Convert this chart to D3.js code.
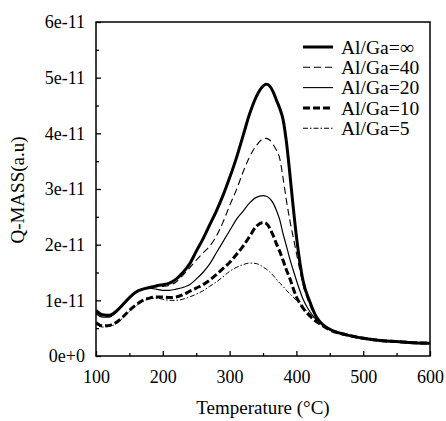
<!DOCTYPE html>
<html><head><meta charset="utf-8">
<script src="https://cdn.jsdelivr.net/npm/d3@7/dist/d3.min.js"></script>
<style>
html,body{margin:0;padding:0;background:#fff;}
svg{display:block;}
</style></head>
<body>
<svg id="chart" width="446" height="421"></svg>
<script>
// Temperature grid (°C)
const temps = [100,110,120,130,140,150,160,170,180,190,200,210,220,230,240,250,260,270,280,290,300,310,320,330,340,350,355,360,365,370,375,380,385,390,395,400,405,410,420,430,440,450,475,500,525,550,575,600];
// Q-MASS signal, in units of 1e-11
const alGaInf = [0.82,0.74,0.73,0.80,0.92,1.05,1.15,1.20,1.23,1.26,1.28,1.31,1.38,1.50,1.65,1.88,2.10,2.35,2.60,2.88,3.20,3.55,3.95,4.35,4.66,4.85,4.88,4.85,4.75,4.60,4.45,4.25,3.85,3.30,2.70,2.15,1.70,1.35,0.98,0.70,0.56,0.48,0.38,0.32,0.28,0.26,0.24,0.23];
const alGa40  = [0.78,0.72,0.72,0.80,0.92,1.05,1.15,1.20,1.22,1.24,1.25,1.27,1.33,1.45,1.58,1.72,1.85,1.97,2.15,2.40,2.70,2.98,3.30,3.58,3.78,3.90,3.91,3.88,3.80,3.70,3.55,3.20,2.80,2.45,2.15,1.85,1.55,1.28,0.92,0.68,0.55,0.48,0.38,0.32,0.28,0.26,0.24,0.23];
const alGa20  = [0.76,0.70,0.70,0.78,0.90,1.04,1.15,1.20,1.22,1.20,1.18,1.18,1.20,1.23,1.28,1.38,1.50,1.65,1.85,2.05,2.25,2.45,2.60,2.75,2.85,2.88,2.87,2.83,2.75,2.62,2.45,2.20,1.98,1.75,1.55,1.36,1.18,1.02,0.80,0.65,0.55,0.47,0.38,0.32,0.28,0.26,0.24,0.23];
const alGa10  = [0.60,0.54,0.55,0.60,0.70,0.82,0.92,1.00,1.04,1.06,1.06,1.05,1.06,1.10,1.16,1.22,1.28,1.36,1.46,1.57,1.68,1.82,1.97,2.15,2.33,2.40,2.38,2.30,2.17,2.02,1.88,1.72,1.55,1.40,1.22,1.06,0.95,0.86,0.72,0.62,0.54,0.47,0.38,0.32,0.28,0.26,0.24,0.23];
const alGa5   = [0.58,0.52,0.53,0.58,0.68,0.80,0.90,0.98,1.03,1.04,1.02,1.00,1.00,1.02,1.06,1.11,1.17,1.25,1.33,1.42,1.52,1.59,1.64,1.67,1.66,1.60,1.56,1.51,1.45,1.38,1.31,1.25,1.18,1.12,1.06,1.00,0.94,0.88,0.76,0.65,0.55,0.47,0.38,0.32,0.28,0.26,0.24,0.23];

const seriesNames = ["Al/Ga=\u221E","Al/Ga=40","Al/Ga=20","Al/Ga=10","Al/Ga=5"];
const seriesValues = [alGaInf, alGa40, alGa20, alGa10, alGa5];
const seriesWidth = [3, 1.1, 1.2, 3, 1];
const seriesDash = [null, "7,4", null, "7,3", "5,2,1.5,2"];

const xTicks = [100,200,300,400,500,600];
const xMinorTicks = [150,250,350,450,550];
const yTicks = [0,1,2,3,4,5,6];
const yTickLabels = ["0e+0","1e-11","2e-11","3e-11","4e-11","5e-11","6e-11"];
const yMinorTicks = [0.5,1.5,2.5,3.5,4.5,5.5];

const FONT = '"Liberation Serif","DejaVu Serif",Tinos,"Times New Roman",Times,serif';
const svg = d3.select("#chart").attr("font-family", FONT);
const L = 96, R = 430, T = 22, B = 356;
const x = d3.scaleLinear().domain([100,600]).range([L,R]);
const y = d3.scaleLinear().domain([0,6]).range([B,T]);

// frame
svg.append("rect").attr("x",L).attr("y",T).attr("width",R-L).attr("height",B-T)
  .attr("fill","none").attr("stroke","#000").attr("stroke-width",1.5);

// axes (inward ticks)
const xAxis = d3.axisBottom(x).tickValues(xTicks).tickSize(-5).tickPadding(14).tickFormat(d3.format("d"));
const gx = svg.append("g").attr("transform",`translate(0,${B})`).call(xAxis);
const xMinor = d3.axisBottom(x).tickValues(xMinorTicks).tickSize(-3).tickFormat("");
const gxm = svg.append("g").attr("transform",`translate(0,${B})`).call(xMinor);
const yAxis = d3.axisLeft(y).tickValues(yTicks).tickSize(-5).tickPadding(11).tickFormat((d,i)=>yTickLabels[i]);
const gy = svg.append("g").attr("transform",`translate(${L},0)`).call(yAxis);
const yMinor = d3.axisLeft(y).tickValues(yMinorTicks).tickSize(-3).tickFormat("");
const gym = svg.append("g").attr("transform",`translate(${L},0)`).call(yMinor);
[gx,gxm,gy,gym].forEach(g=>{
  g.attr("font-family", FONT).attr("font-size", 18);
  g.select(".domain").remove();
  g.selectAll(".tick line").attr("stroke","#000").attr("stroke-width",1.3);
  g.selectAll("text").attr("fill","#000");
});

// lines
const line = d3.line().x((d,i)=>x(temps[i])).y(d=>y(d)).curve(d3.curveMonotoneX);
svg.append("clipPath").attr("id","clip").append("rect").attr("x",L).attr("y",T).attr("width",R-L).attr("height",B-T);
const gl = svg.append("g").attr("clip-path","url(#clip)");
seriesValues.forEach((vals,k)=>{
  gl.append("path").datum(vals).attr("d",line).attr("fill","none").attr("stroke","#000")
    .attr("stroke-width",seriesWidth[k]).attr("stroke-linejoin","round")
    .attr("stroke-dasharray",seriesDash[k]);
});

// legend
const leg = svg.append("g").attr("font-family", FONT).attr("font-size", 19.5);
seriesNames.forEach((name,k)=>{
  const yy = 47 + k*20.3;
  leg.append("line").attr("x1",303).attr("x2",333).attr("y1",yy).attr("y2",yy)
    .attr("stroke","#000").attr("stroke-width",seriesWidth[k]===3?3:1.1).attr("stroke-dasharray",seriesDash[k]);
  leg.append("text").attr("x",341).attr("y",yy).attr("dy","0.35em").text(name);
});

// axis titles
svg.append("text").attr("x",263).attr("y",414).attr("text-anchor","middle").attr("font-size",19).text("Temperature (\u00B0C)");
svg.append("text").attr("transform","translate(24,190) rotate(-90)").attr("text-anchor","middle").attr("font-size",19).text("Q-MASS(a.u)");
</script>
</body></html>
